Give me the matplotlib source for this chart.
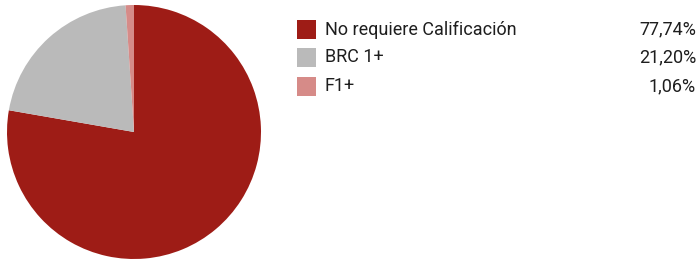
import matplotlib
matplotlib.use("Agg")
import matplotlib.pyplot as plt
from matplotlib.patches import Rectangle

# ── data ──────────────────────────────────────────────────────────────────────
labels = ["No requiere Calificación", "BRC 1+", "F1+"]
values = [77.74, 21.20, 1.06]
pct_text = ["77,74%", "21,20%", "1,06%"]
colors = ["#9e1c16", "#bababa", "#d68b88"]

W, H = 697, 264
plt.rcParams["font.family"] = ["Roboto", "DejaVu Sans"]

fig = plt.figure(figsize=(W / 100, H / 100), dpi=100, facecolor="white")

# ── pie ───────────────────────────────────────────────────────────────────────
cx, cy, r = 134, 132, 127
ax = fig.add_axes([(cx - r) / W, (H - cy - r) / H, 2 * r / W, 2 * r / H])
ax.pie(values, colors=colors, startangle=90, counterclock=False,
       wedgeprops=dict(linewidth=0))
ax.set_aspect("equal")
ax.set_xlim(-1, 1)
ax.set_ylim(-1, 1)
ax.axis("off")

# ── legend (drawn in pixel coords) ────────────────────────────────────────────
lax = fig.add_axes([0, 0, 1, 1])
lax.set_xlim(0, W)
lax.set_ylim(H, 0)
lax.axis("off")

row_y = [29.5, 57.5, 86]
for lab, pct, col, y in zip(labels, pct_text, colors, row_y):
    lax.add_patch(Rectangle((297, y - 9.5), 19, 19, facecolor=col, edgecolor="none"))
    lax.text(325, y, lab, fontsize=13, color="#1e1e1e", va="center", ha="left")
    lax.text(696, y, pct, fontsize=13, color="#1e1e1e", va="center", ha="right")

fig.savefig("out.png", dpi=100, facecolor="white")
